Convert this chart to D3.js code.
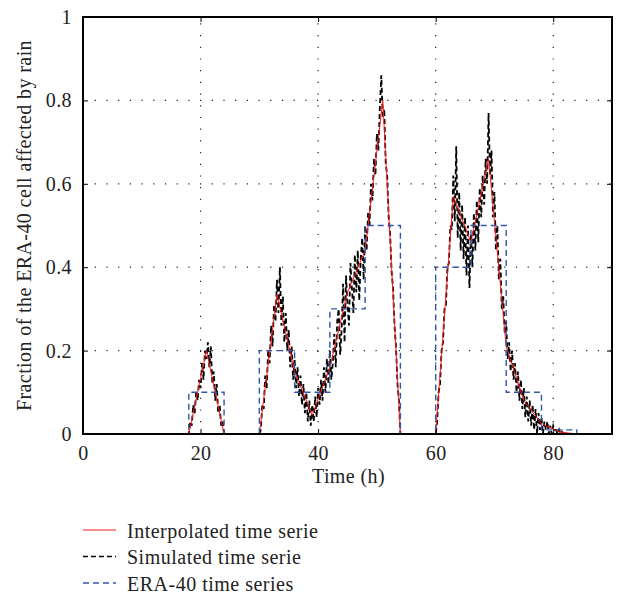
<!DOCTYPE html>
<html>
<head>
<meta charset="utf-8">
<script src="https://cdn.jsdelivr.net/npm/d3@7"></script>
<style>
  html, body { margin: 0; padding: 0; background: #fff; }
  svg { display: block; font-family: "Liberation Serif", "Times New Roman", serif; }
</style>
</head>
<body>
<svg id="chart" width="622" height="595"></svg>
<script>
// ---------- data ----------
const xTicks = [0, 20, 40, 60, 80];
const yTicks = [0, 0.2, 0.4, 0.6, 0.8, 1];
const yTickLabels = ["0", "0.2", "0.4", "0.6", "0.8", "1"];

// ERA-40 6-hourly values (held over each 6 h interval)
const eraTimes = [0, 6, 12, 18, 24, 30, 36, 42, 48, 54, 60, 66, 72, 78, 84, 90];
const eraValues = [0, 0, 0, 0.1, 0, 0.2, 0.1, 0.3, 0.5, 0, 0.4, 0.5, 0.1, 0.01, 0, 0];

// Interpolated time serie (piecewise linear nodes)
const interpTimes = [0, 18, 21, 24, 30, 33, 36, 39, 42, 45, 48, 51, 54, 60, 63, 66, 69, 72, 75, 78, 81, 84, 90];
const interpValues = [0, 0, 0.2, 0, 0, 0.335, 0.15, 0.045, 0.16, 0.34, 0.44, 0.8, 0, 0, 0.57, 0.46, 0.66, 0.21, 0.08, 0.025, 0.005, 0, 0];

// Simulated time serie, sampled every 0.25 h inside three rain episodes
const simStep = 0.25;
const simStarts = [18, 30, 60];
const simEpisode1 = [
  0, 0.03, 0.02, 0.07,
  0.05, 0.1, 0.08, 0.13,
  0.11, 0.17, 0.13, 0.2,
  0.18, 0.22, 0.16, 0.21,
  0.12, 0.15, 0.08, 0.12,
  0.05, 0.07, 0.02, 0.03,
  0
];
const simEpisode2 = [
  0, 0.01, 0.07, 0.06,
  0.14, 0.11, 0.2, 0.17,
  0.26, 0.21, 0.31, 0.27,
  0.37, 0.29, 0.40, 0.26,
  0.33, 0.22, 0.29, 0.2,
  0.25, 0.16, 0.21, 0.13,
  0.18, 0.11, 0.16, 0.09,
  0.14, 0.07, 0.12, 0.05,
  0.1, 0.03, 0.08, 0.02,
  0.07, 0.03, 0.09, 0.04,
  0.11, 0.07, 0.13, 0.08,
  0.16, 0.1, 0.18, 0.12,
  0.2, 0.13, 0.17, 0.24,
  0.16, 0.27, 0.3, 0.19,
  0.25, 0.36, 0.22, 0.38,
  0.31, 0.26, 0.41, 0.35,
  0.29, 0.43, 0.34, 0.44,
  0.32, 0.42, 0.47, 0.37,
  0.5, 0.44, 0.53, 0.5,
  0.6, 0.56, 0.66, 0.62,
  0.72, 0.68, 0.78, 0.86,
  0.76, 0.78, 0.65, 0.62,
  0.52, 0.48, 0.39, 0.35,
  0.26, 0.21, 0.12, 0.08,
  0
];
const simEpisode3 = [
  0, 0.03, 0.1, 0.12,
  0.2, 0.22, 0.3, 0.31,
  0.4, 0.41, 0.5, 0.49,
  0.62, 0.51, 0.69, 0.47,
  0.58, 0.44, 0.55, 0.42,
  0.52, 0.38, 0.5, 0.35,
  0.48, 0.4, 0.53, 0.44,
  0.56, 0.46, 0.59, 0.52,
  0.62, 0.55, 0.66, 0.6,
  0.77, 0.62, 0.68, 0.52,
  0.58, 0.44, 0.5, 0.37,
  0.42, 0.3, 0.33, 0.24,
  0.27, 0.18, 0.22, 0.15,
  0.2, 0.13, 0.17, 0.1,
  0.15, 0.08, 0.13, 0.06,
  0.11, 0.04, 0.09, 0.03,
  0.08, 0.02, 0.07, 0.01,
  0.06, 0, 0.05, 0.01,
  0.04, 0, 0.03, 0.01,
  0.03, 0, 0.02, 0,
  0.02, 0.01, 0.01, 0,
  0.01, 0, 0.005, 0,
  0.005, 0, 0, 0,
  0, 0, 0, 0,
  0
];
const simStartTime = 0, simEndTime = 90;

const seriesNames = ["Interpolated time serie", "Simulated time serie", "ERA-40 time series"];
const seriesColors = ["#ff1a1a", "#000000", "#3355aa"];

// ---------- layout ----------
const svg = d3.select("#chart");
const plot = { left: 83, right: 612, top: 17, bottom: 434 };
const x = d3.scaleLinear().domain([0, 90]).range([plot.left, plot.right]);
const y = d3.scaleLinear().domain([0, 1]).range([plot.bottom, plot.top]);

// grid
const grid = svg.append("g").attr("stroke", "#222").attr("stroke-width", 1.2)
  .attr("stroke-dasharray", "1.2,10.5");
grid.selectAll("line.v").data(xTicks.filter(d => d > 0)).join("line")
  .attr("x1", d => x(d)).attr("x2", d => x(d)).attr("y1", plot.bottom).attr("y2", plot.top);
grid.selectAll("line.h").data(yTicks.filter(d => d > 0 && d < 1)).join("line")
  .attr("y1", d => y(d)).attr("y2", d => y(d)).attr("x1", plot.left).attr("x2", plot.right);

// series
const simPoints = [[simStartTime, 0]];
[simEpisode1, simEpisode2, simEpisode3].forEach((arr, k) => {
  arr.forEach((v, i) => simPoints.push([simStarts[k] + i * simStep, v]));
});
simPoints.push([simEndTime, 0]);

const line = d3.line().x(d => x(d[0])).y(d => y(d[1]));
const stepLine = d3.line().x(d => x(d[0])).y(d => y(d[1])).curve(d3.curveStepAfter);

svg.append("path").datum(simPoints).attr("d", line)
  .attr("fill", "none").attr("stroke", seriesColors[1]).attr("stroke-width", 1.8)
  .attr("stroke-dasharray", "5,3");

svg.append("path").datum(interpTimes.map((t, i) => [t, interpValues[i]])).attr("d", line)
  .attr("fill", "none").attr("stroke", seriesColors[0]).attr("stroke-width", 1);

svg.append("path").datum(eraTimes.map((t, i) => [t, eraValues[i]])).attr("d", stepLine)
  .attr("fill", "none").attr("stroke", seriesColors[2]).attr("stroke-width", 1.4)
  .attr("stroke-dasharray", "6,4");

// axes
const fontSize = 20;
const axB = svg.append("g").attr("transform", `translate(0,${plot.bottom})`)
  .call(d3.axisBottom(x).tickValues(xTicks).tickSizeInner(-5).tickSizeOuter(0).tickPadding(12));
const axL = svg.append("g").attr("transform", `translate(${plot.left},0)`)
  .call(d3.axisLeft(y).tickValues(yTicks).tickFormat((d, i) => yTickLabels[i]).tickSizeInner(-5).tickSizeOuter(0).tickPadding(11));
const axT = svg.append("g").attr("transform", `translate(0,${plot.top})`)
  .call(d3.axisTop(x).tickValues(xTicks).tickFormat("").tickSizeInner(-5).tickSizeOuter(0));
const axR = svg.append("g").attr("transform", `translate(${plot.right},0)`)
  .call(d3.axisRight(y).tickValues(yTicks).tickFormat("").tickSizeInner(-5).tickSizeOuter(0));
[axB, axL, axT, axR].forEach(g => {
  g.select(".domain").remove();
  g.selectAll("text").attr("font-size", fontSize).attr("fill", "#222")
    .attr("font-family", "Liberation Serif, serif").attr("letter-spacing", "0.4px");
  g.selectAll("line").attr("stroke", "#000");
});

// frame
svg.append("rect").attr("x", plot.left).attr("y", plot.top)
  .attr("width", plot.right - plot.left).attr("height", plot.bottom - plot.top)
  .attr("fill", "none").attr("stroke", "#000").attr("stroke-width", 2);

// axis titles
svg.append("text").attr("x", (plot.left + plot.right) / 2 + 1).attr("y", 483)
  .attr("text-anchor", "middle").attr("font-size", fontSize).attr("fill", "#222")
  .attr("letter-spacing", "0.4px")
  .text("Time (h)");
svg.append("text")
  .attr("transform", `translate(31,${(plot.top + plot.bottom) / 2}) rotate(-90)`)
  .attr("text-anchor", "middle").attr("font-size", fontSize).attr("fill", "#222")
  .attr("letter-spacing", "0.4px")
  .text("Fraction of the ERA-40 cell affected by rain");

// legend
const legendStyles = [
  { dash: null, width: 1 },
  { dash: "5,3", width: 1.6 },
  { dash: "6,4", width: 1.4 }
];
const lg = svg.append("g");
seriesNames.forEach((name, i) => {
  const yy = 530 + i * 26.5;
  lg.append("line").attr("x1", 83).attr("x2", 116).attr("y1", yy).attr("y2", yy)
    .attr("stroke", seriesColors[i]).attr("stroke-width", legendStyles[i].width)
    .attr("stroke-dasharray", legendStyles[i].dash);
  lg.append("text").attr("x", 127).attr("y", yy + 7.5)
    .attr("font-size", fontSize).attr("fill", "#222").attr("letter-spacing", "0.5px").text(name);
});
</script>
</body>
</html>
